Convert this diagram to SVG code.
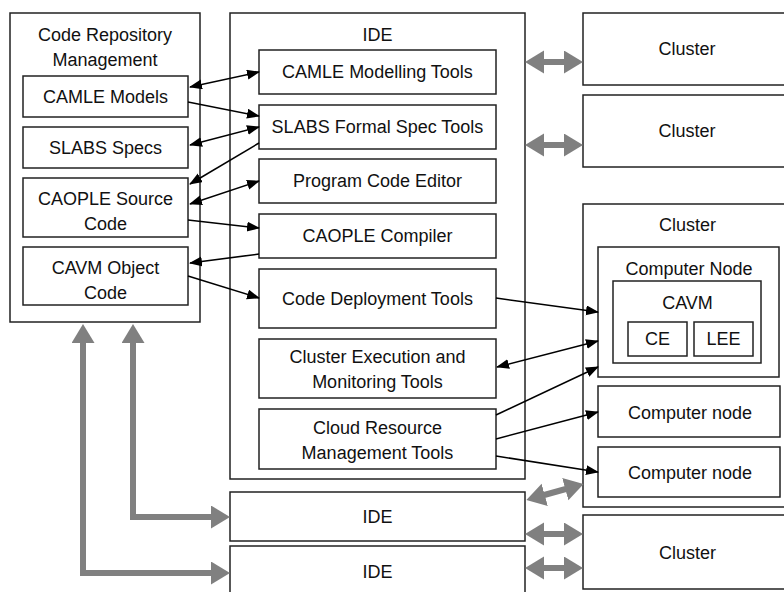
<svg xmlns="http://www.w3.org/2000/svg" width="784" height="592" viewBox="0 0 784 592">
<style>
.box{fill:#fff;stroke:#222;stroke-width:1.5}
.t{font-family:"Liberation Sans",Arial,sans-serif;font-size:18px;fill:#111;text-anchor:middle;dominant-baseline:central}
.a{stroke:#000;stroke-width:1.5;fill:none}
.g{stroke:#808080;stroke-width:6;fill:none}
</style>
<defs>
<marker id="ah" markerUnits="userSpaceOnUse" markerWidth="14" markerHeight="11" refX="12" refY="5" orient="auto-start-reverse"><path d="M0,0 L13,5 L0,10 z" fill="#000"/></marker>
<marker id="gh" markerUnits="userSpaceOnUse" markerWidth="20" markerHeight="24" refX="8" refY="11.5" orient="auto-start-reverse"><path d="M0,0 L19,11.5 L0,23 z" fill="#808080"/></marker>
</defs>
<rect width="784" height="592" fill="#fff"/>

<g id="repo">
<rect class="box" x="10" y="13" width="190" height="309"/>
<text class="t" x="105" y="35">Code Repository</text>
<text class="t" x="105" y="60">Management</text>
</g>
<g id="camle-models"><rect class="box" x="23" y="76" width="165" height="41"/><text class="t" x="105.5" y="97">CAMLE Models</text></g>
<g id="slabs-specs"><rect class="box" x="23" y="127" width="165" height="41"/><text class="t" x="105.5" y="148">SLABS Specs</text></g>
<g id="caople-source"><rect class="box" x="23" y="178" width="165" height="59"/><text class="t" x="105.5" y="199">CAOPLE Source</text><text class="t" x="105.5" y="224">Code</text></g>
<g id="cavm-object"><rect class="box" x="23" y="247" width="165" height="58"/><text class="t" x="105.5" y="268">CAVM Object</text><text class="t" x="105.5" y="293">Code</text></g>

<g id="ide"><rect class="box" x="230" y="13" width="295" height="466"/><text class="t" x="377.5" y="35">IDE</text></g>
<g id="camle-tools"><rect class="box" x="259" y="50" width="237" height="44"/><text class="t" x="377.5" y="72">CAMLE Modelling Tools</text></g>
<g id="slabs-tools"><rect class="box" x="259" y="105" width="237" height="44"/><text class="t" x="377.5" y="127">SLABS Formal Spec Tools</text></g>
<g id="editor"><rect class="box" x="259" y="159" width="237" height="44"/><text class="t" x="377.5" y="181">Program Code Editor</text></g>
<g id="compiler"><rect class="box" x="259" y="214" width="237" height="44"/><text class="t" x="377.5" y="236">CAOPLE Compiler</text></g>
<g id="deploy"><rect class="box" x="259" y="269" width="237" height="59"/><text class="t" x="377.5" y="299">Code Deployment Tools</text></g>
<g id="exec"><rect class="box" x="259" y="339" width="237" height="59"/><text class="t" x="377.5" y="357">Cluster Execution and</text><text class="t" x="377.5" y="382">Monitoring Tools</text></g>
<g id="cloud"><rect class="box" x="259" y="409" width="237" height="60"/><text class="t" x="377.5" y="428">Cloud Resource</text><text class="t" x="377.5" y="453">Management Tools</text></g>

<g id="ide2"><rect class="box" x="230" y="492" width="295" height="49"/><text class="t" x="377.5" y="517">IDE</text></g>
<g id="ide3"><rect class="box" x="230" y="546" width="295" height="52"/><text class="t" x="377.5" y="572">IDE</text></g>

<g id="cluster1"><rect class="box" x="583" y="13" width="210" height="72"/><text class="t" x="687" y="49">Cluster</text></g>
<g id="cluster2"><rect class="box" x="583" y="95" width="210" height="72"/><text class="t" x="687" y="131">Cluster</text></g>
<g id="cluster3"><rect class="box" x="583" y="204" width="210" height="303"/><text class="t" x="687.5" y="225">Cluster</text></g>
<g id="computer-node"><rect class="box" x="598" y="247" width="181" height="130"/><text class="t" x="689" y="269">Computer Node</text></g>
<g id="cavm"><rect class="box" x="613" y="281" width="148" height="82"/><text class="t" x="687.5" y="303">CAVM</text></g>
<g id="ce"><rect class="box" x="628" y="322" width="59" height="34"/><text class="t" x="657.5" y="339">CE</text></g>
<g id="lee"><rect class="box" x="694" y="322" width="59" height="34"/><text class="t" x="723.5" y="339">LEE</text></g>
<g id="computer-node-1"><rect class="box" x="598" y="386" width="182" height="51"/><text class="t" x="690" y="413">Computer node</text></g>
<g id="computer-node-2"><rect class="box" x="598" y="447" width="182" height="50"/><text class="t" x="690" y="473">Computer node</text></g>
<g id="cluster4"><rect class="box" x="583" y="515" width="210" height="74"/><text class="t" x="687.5" y="553">Cluster</text></g>

<g id="connectors">
<line class="a" x1="190" y1="87" x2="259" y2="72" marker-start="url(#ah)" marker-end="url(#ah)"/>
<line class="a" x1="188" y1="102" x2="259" y2="116" marker-end="url(#ah)"/>
<line class="a" x1="190" y1="145" x2="259" y2="127" marker-start="url(#ah)" marker-end="url(#ah)"/>
<line class="a" x1="259" y1="143" x2="190" y2="184" marker-end="url(#ah)"/>
<line class="a" x1="190" y1="204" x2="259" y2="181" marker-start="url(#ah)" marker-end="url(#ah)"/>
<line class="a" x1="188" y1="220" x2="259" y2="228" marker-end="url(#ah)"/>
<line class="a" x1="259" y1="254" x2="190" y2="263" marker-end="url(#ah)"/>
<line class="a" x1="188" y1="276" x2="259" y2="298" marker-end="url(#ah)"/>
<line class="a" x1="496" y1="298" x2="598" y2="312" marker-end="url(#ah)"/>
<line class="a" x1="497" y1="367" x2="598" y2="341" marker-start="url(#ah)" marker-end="url(#ah)"/>
<line class="a" x1="496" y1="415" x2="598" y2="367" marker-end="url(#ah)"/>
<line class="a" x1="496" y1="439" x2="598" y2="412" marker-end="url(#ah)"/>
<line class="a" x1="496" y1="456" x2="598" y2="472" marker-end="url(#ah)"/>

<line class="g" x1="536" y1="62" x2="572" y2="62" marker-start="url(#gh)" marker-end="url(#gh)"/>
<line class="g" x1="536" y1="145" x2="572" y2="145" marker-start="url(#gh)" marker-end="url(#gh)"/>
<line class="g" x1="537" y1="497" x2="573" y2="487" marker-start="url(#gh)" marker-end="url(#gh)"/>
<line class="g" x1="536" y1="534" x2="572" y2="534" marker-start="url(#gh)" marker-end="url(#gh)"/>
<line class="g" x1="536" y1="568" x2="572" y2="568" marker-start="url(#gh)" marker-end="url(#gh)"/>
<polyline class="g" points="133,335 133,517 219,517" marker-start="url(#gh)" marker-end="url(#gh)"/>
<polyline class="g" points="83,335 83,573 219,573" marker-start="url(#gh)" marker-end="url(#gh)"/>
</g>
</svg>
